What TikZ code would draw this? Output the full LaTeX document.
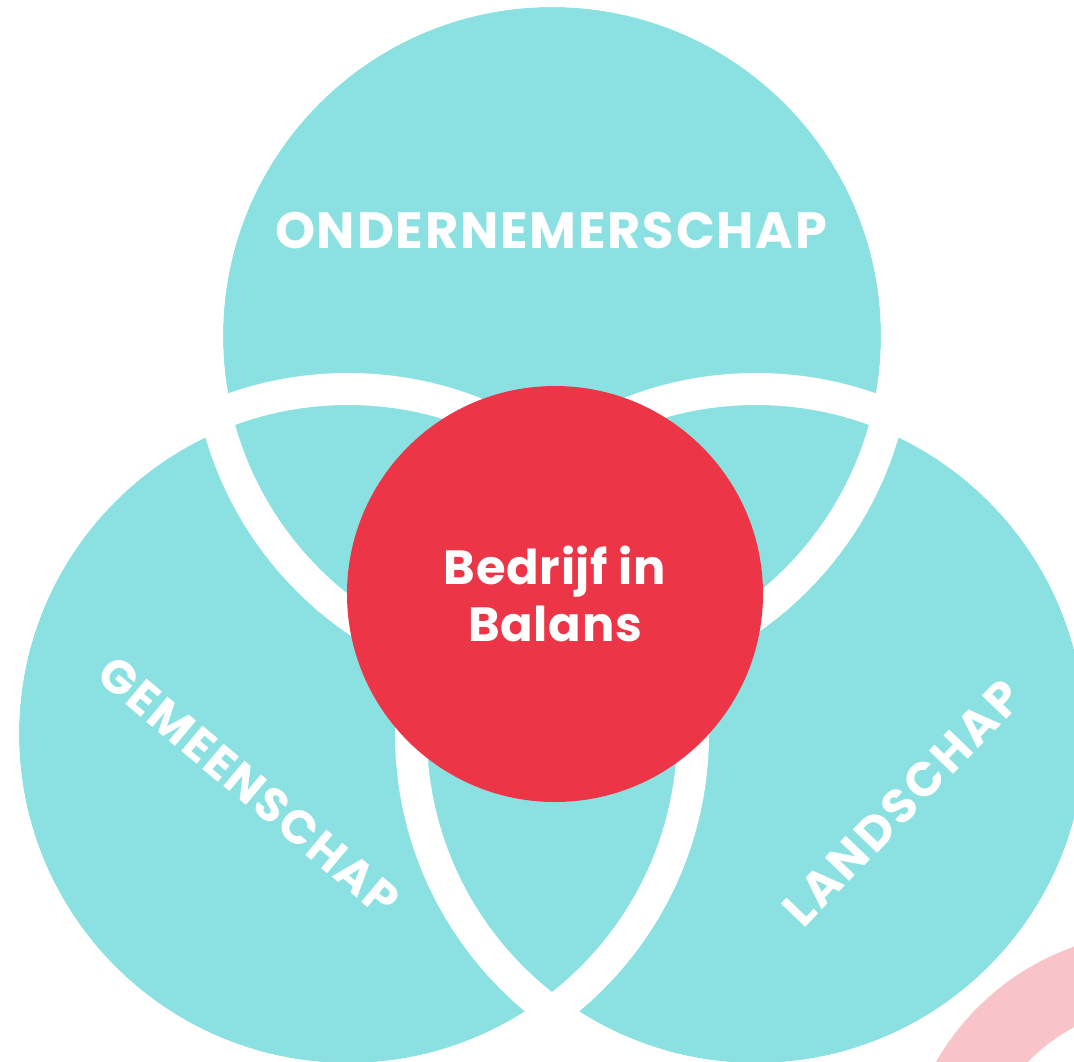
\documentclass[tikz,border=0pt]{standalone}
\usepackage{fontspec}
\setmainfont{Poppins}[BoldFont={* Bold}]
\usepackage{tikz}

\definecolor{turkoois}{HTML}{8BE1E1}
\definecolor{rood}{HTML}{EC3547}
\definecolor{roze}{HTML}{F8C4C9}

\tikzset{
	bol/.style={fill=turkoois},
	rand/.style={draw=white, line width=32pt},
	opschrift/.style={text=white, inner sep=0pt, font=\bfseries}
}

\begin{document}
\begin{tikzpicture}[x=1pt, y=-1pt]
	\useasboundingbox (0, 0) rectangle (1074, 1061);
	\clip (0, 0) rectangle (1074, 1061);

	% drie bollen
	\fill[bol] (552, 336) circle (329pt);
	\fill[bol] (348, 734) circle (329pt);
	\fill[bol] (756, 734) circle (329pt);

	% witte randen over de vullingen
	\draw[rand] (552, 336) circle (345pt);
	\draw[rand] (348, 734) circle (345pt);
	\draw[rand] (756, 734) circle (345pt);

	\draw[roze, line width=74pt] (1160, 1190) circle (221pt);
	\fill[rood] (555, 594) circle (208pt);

	\node[opschrift, font=\bfseries\fontsize{51}{51}\selectfont\addfontfeatures{LetterSpace=3.5}] (onder) at (551, 231) {ONDERNEMERSCHAP};
	\node[opschrift, align=center, font=\bfseries\fontsize{48}{57}\selectfont\addfontfeatures{LetterSpace=1.5}] (bedrijf) at (555, 594) {Bedrijf in\\Balans};
	\node[opschrift, rotate=-40, font=\bfseries\fontsize{47}{47}\selectfont\addfontfeatures{LetterSpace=4.5}] (gemeen) at (249, 786) {GEMEENSCHAP};
	\node[opschrift, rotate=46, font=\bfseries\fontsize{48}{48}\selectfont\addfontfeatures{LetterSpace=6}] (land) at (902, 803) {LANDSCHAP};
\end{tikzpicture}
\end{document}
